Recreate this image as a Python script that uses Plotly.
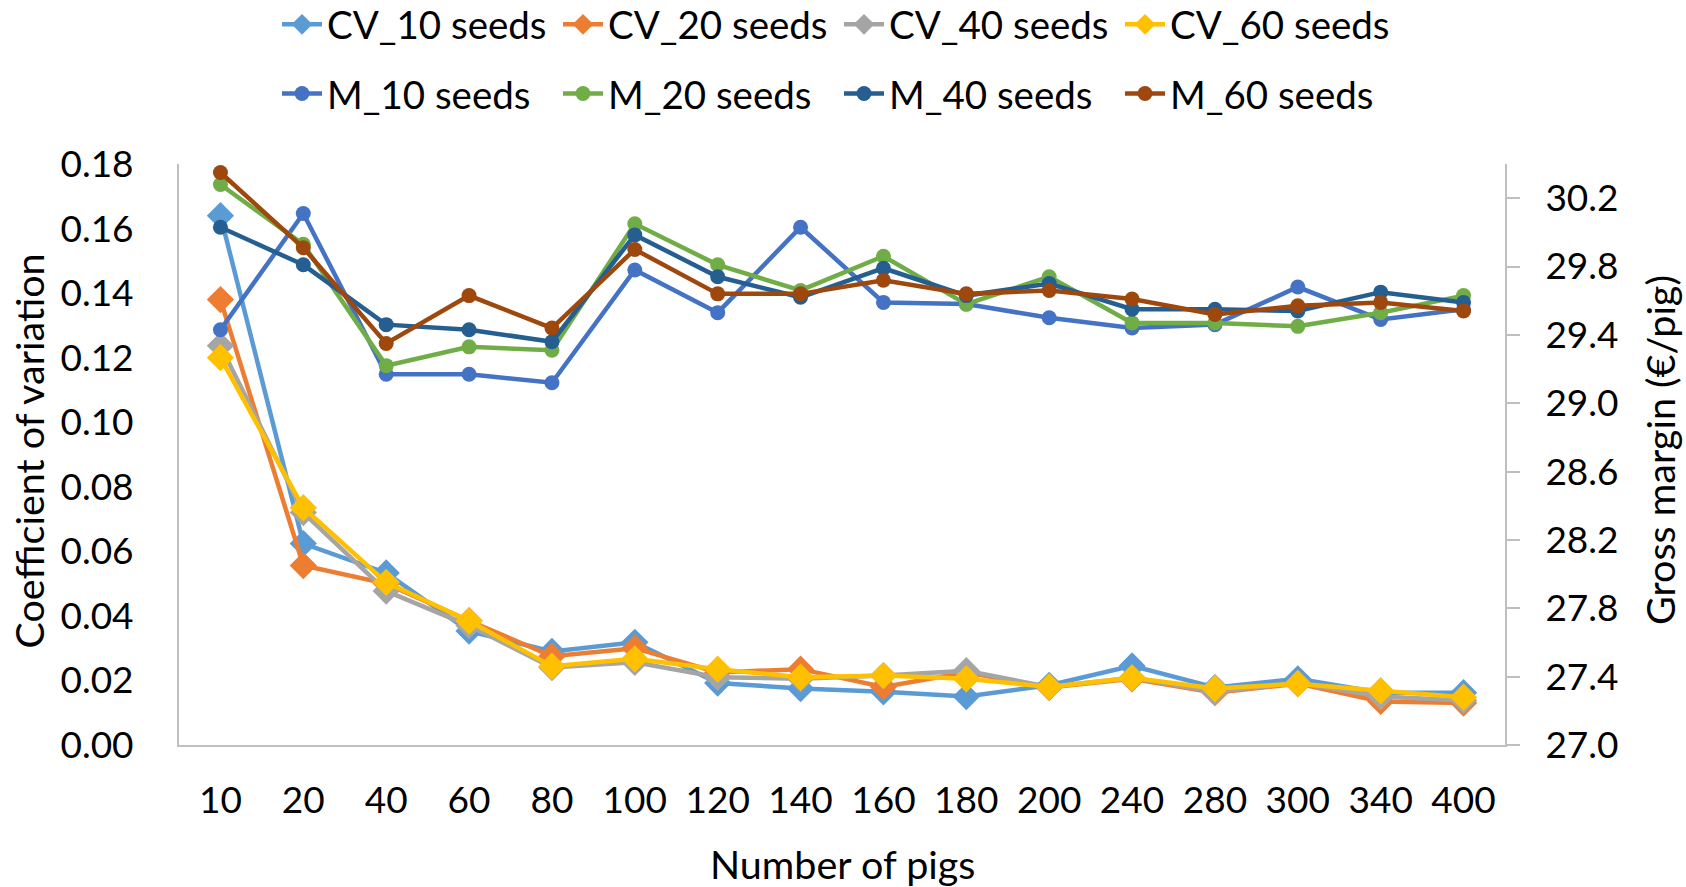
import plotly.graph_objects as go

categories = ["10", "20", "40", "60", "80", "100", "120", "140", "160", "180",
              "200", "240", "280", "300", "340", "400"]

cv_10 = [0.164, 0.0624, 0.0533, 0.0353, 0.029, 0.0318, 0.0192, 0.0175, 0.0165, 0.0150,
         0.0185, 0.0245, 0.0178, 0.0205, 0.0162, 0.0162]
cv_20 = [0.138, 0.0556, 0.0500, 0.0385, 0.0275, 0.0300, 0.0225, 0.0235, 0.0180, 0.0225,
         0.0178, 0.0205, 0.0162, 0.0190, 0.0135, 0.0130]
cv_40 = [0.1237, 0.0720, 0.0477, 0.0370, 0.0240, 0.0256, 0.0210, 0.0205, 0.0215, 0.0230,
         0.0180, 0.0208, 0.0165, 0.0192, 0.0150, 0.0138]
cv_60 = [0.120, 0.0735, 0.0504, 0.0384, 0.0244, 0.0267, 0.0235, 0.0210, 0.0215, 0.0205,
         0.0180, 0.0208, 0.0175, 0.0190, 0.0168, 0.0148]

m_10 = [29.43, 30.11, 29.17, 29.17, 29.12, 29.78, 29.53, 30.03, 29.59, 29.58,
        29.50, 29.44, 29.46, 29.68, 29.49, 29.55]
m_20 = [30.28, 29.93, 29.22, 29.33, 29.31, 30.05, 29.81, 29.66, 29.86, 29.58,
        29.74, 29.47, 29.47, 29.45, 29.53, 29.63]
m_40 = [30.03, 29.81, 29.46, 29.43, 29.36, 29.985, 29.74, 29.62, 29.79, 29.63,
        29.70, 29.55, 29.55, 29.54, 29.65, 29.59]
m_60 = [30.35, 29.91, 29.35, 29.63, 29.44, 29.90, 29.64, 29.64, 29.72, 29.64,
        29.66, 29.61, 29.52, 29.57, 29.59, 29.54]

left_ticks = [0.00, 0.02, 0.04, 0.06, 0.08, 0.10, 0.12, 0.14, 0.16, 0.18]
right_ticks = [27.0, 27.4, 27.8, 28.2, 28.6, 29.0, 29.4, 29.8, 30.2]

FONT = "Lato"
TICK = 37
TITLE = 39.5
LEG = 38.5
fig = go.Figure()

cv_series = [("CV_10 seeds", cv_10, "#5B9BD5"), ("CV_20 seeds", cv_20, "#ED7D31"),
             ("CV_40 seeds", cv_40, "#A5A5A5"), ("CV_60 seeds", cv_60, "#FFC000")]
m_series = [("M_10 seeds", m_10, "#4472C4"), ("M_20 seeds", m_20, "#70AD47"),
            ("M_40 seeds", m_40, "#255E91"), ("M_60 seeds", m_60, "#9E480E")]

for name, vals, col in cv_series:
    fig.add_trace(go.Scatter(x=categories, y=vals, name=name, mode="lines+markers",
                             line=dict(color=col, width=4.5),
                             marker=dict(symbol="diamond", size=21, color=col),
                             legend="legend", yaxis="y"))
for name, vals, col in m_series:
    fig.add_trace(go.Scatter(x=categories, y=vals, name=name, mode="lines+markers",
                             line=dict(color=col, width=4.5),
                             marker=dict(symbol="circle", size=15, color=col),
                             legend="legend2", yaxis="y2"))

axis_line = "#BFBFBF"
fig.update_layout(
    width=1686, height=887,
    paper_bgcolor="white", plot_bgcolor="white",
    font=dict(family=FONT, size=TICK, color="black"),
    margin=dict(l=179, r=181, t=164, b=142),
    xaxis=dict(type="category", range=[-0.5, 15.5], showgrid=False, automargin=False,
               showline=True, linecolor=axis_line, linewidth=2, ticks="",
               tickfont=dict(size=TICK), ticklabelstandoff=22),
    yaxis=dict(range=[0, 0.18], tickvals=left_ticks, tickformat=".2f", showgrid=False,
               automargin=False, zeroline=False, showline=True, linecolor=axis_line,
               linewidth=2, ticks="", tickfont=dict(size=TICK), ticklabelstandoff=36),
    yaxis2=dict(range=[27.0, 30.4], tickvals=right_ticks, tickformat=".1f",
                overlaying="y", side="right", showgrid=False, zeroline=False,
                automargin=False, showline=True, linecolor=axis_line, linewidth=2,
                ticks="outside", ticklen=13, tickcolor=axis_line, tickwidth=2,
                tickfont=dict(size=TICK), ticklabelstandoff=18),
    legend=dict(orientation="h", xref="container", yref="container",
                x=0.1643, xanchor="left", y=0.972, yanchor="middle",
                entrywidth=226, entrywidthmode="pixels", font=dict(size=LEG),
                itemwidth=40, tracegroupgap=0, bgcolor="rgba(0,0,0,0)"),
    legend2=dict(orientation="h", xref="container", yref="container",
                 x=0.1643, xanchor="left", y=0.894, yanchor="middle",
                 entrywidth=226, entrywidthmode="pixels", font=dict(size=LEG),
                 itemwidth=40, tracegroupgap=0, bgcolor="rgba(0,0,0,0)"),
    annotations=[
        dict(text="Coefficient of variation", xref="paper", yref="paper",
             x=-0.1135, y=0.506, xanchor="center", yanchor="middle", textangle=-90,
             showarrow=False, font=dict(size=TITLE)),
        dict(text="Gross margin (€/pig)", xref="paper", yref="paper",
             x=1.117, y=0.508, xanchor="center", yanchor="middle", textangle=-90,
             showarrow=False, font=dict(size=TITLE)),
        dict(text="Number of pigs", xref="paper", yref="paper",
             x=0.5, y=-0.204, xanchor="center", yanchor="middle",
             showarrow=False, font=dict(size=TITLE)),
    ],
)

fig.write_html("out.html", config={"displayModeBar": False},
               post_script="document.body.style.margin='0';document.body.style.padding='0';")
